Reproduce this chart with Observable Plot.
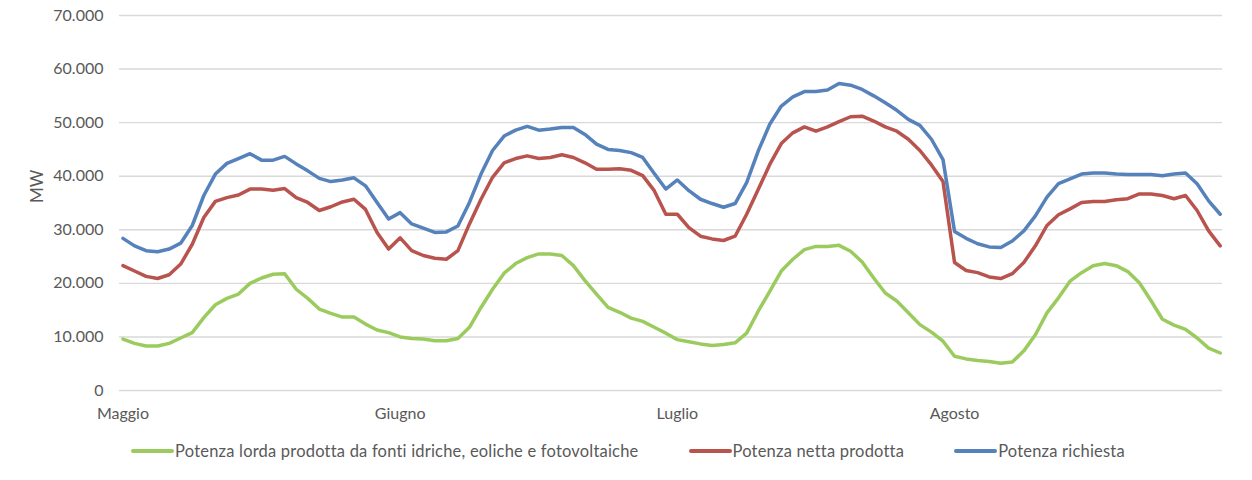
<!DOCTYPE html>
<html>
<head>
<meta charset="utf-8">
<script src="https://cdn.jsdelivr.net/npm/d3@7"></script>
<script src="https://cdn.jsdelivr.net/npm/@observablehq/plot@0.6"></script>
<style>
  html, body { margin: 0; padding: 0; background: #fff; }
  #chart { width: 1252px; }
  .legend { display: flex; justify-content: center; align-items: center; gap: 50px;
    font-family: Lato, sans-serif; font-size: 16.5px; letter-spacing: 0.2px; color: #595959; margin-top: 11px; margin-left: 4px; }
  .legend .item { display: flex; align-items: center; }
  .legend .sw { display: inline-block; width: 43px; height: 4px; border-radius: 2px; margin-right: 1px; }
</style>
</head>
<body>
<div id="chart"></div>
<script>
const months = ["Maggio", "Giugno", "Luglio", "Agosto"];
const monthTicks = [0, 24, 48, 72];
const yTicks = [0, 10000, 20000, 30000, 40000, 50000, 60000, 70000];
const seriesNames = [
  "Potenza lorda prodotta da fonti idriche, eoliche e fotovoltaiche",
  "Potenza netta prodotta",
  "Potenza richiesta"
];
const seriesColors = ["#9BCB5E", "#B8534E", "#5682BB"];

const lorda = [
  9600, 8800, 8300, 8300, 8800, 9800, 10800, 13600, 16000, 17200, 18000, 20000,
  21000, 21700, 21800, 18900, 17200, 15200, 14400, 13700, 13700, 12400, 11300, 10800,
  10000, 9700, 9600, 9300, 9300, 9700, 11800, 15500, 18900, 21900, 23700, 24800,
  25500, 25500, 25200, 23300, 20500, 18000, 15500, 14600, 13500, 12900, 11800, 10700,
  9500, 9100, 8700, 8400, 8600, 8900, 10700, 14800, 18500, 22300, 24500, 26300,
  26900, 26900, 27100, 26000, 24000, 21000, 18200, 16700, 14500, 12300, 10900, 9200,
  6400, 5900, 5600, 5400, 5100, 5300, 7400, 10400, 14500, 17300, 20400, 22000,
  23300, 23700, 23300, 22200, 20100, 16800, 13300, 12200, 11400, 9800, 7900, 7000
];
const netta = [
  23300, 22300, 21300, 20900, 21600, 23600, 27300, 32300, 35300, 36000, 36500, 37600,
  37600, 37400, 37700, 36000, 35100, 33600, 34300, 35200, 35700, 33800, 29500, 26400,
  28500, 26100, 25200, 24700, 24500, 26100, 31100, 35700, 39800, 42500, 43300, 43800,
  43300, 43500, 44000, 43500, 42500, 41300, 41300, 41400, 41100, 40100, 37300, 32900,
  32900, 30400, 28800, 28300, 28000, 28800, 32900, 37500, 42200, 46100, 48100, 49200,
  48400, 49200, 50200, 51100, 51200, 50300, 49200, 48400, 46900, 44800, 42100, 39000,
  23900, 22400, 22000, 21200, 20900, 21800, 23900, 27000, 30800, 32800, 33900, 35100,
  35300, 35300, 35600, 35800, 36700, 36700, 36400, 35800, 36400, 33600, 29800, 27000
];
const richiesta = [
  28400, 27000, 26100, 25900, 26400, 27500, 30800, 36400, 40400, 42400, 43300, 44200,
  43000, 43000, 43700, 42300, 41000, 39600, 39000, 39300, 39700, 38200, 35100, 32000,
  33200, 31100, 30300, 29500, 29600, 30700, 35100, 40400, 44800, 47500, 48600, 49300,
  48600, 48800, 49100, 49100, 47800, 46000, 45000, 44800, 44400, 43500, 40500, 37600,
  39300, 37300, 35700, 34900, 34200, 34900, 38800, 44700, 49700, 53100, 54800, 55800,
  55800, 56100, 57300, 57000, 56200, 55000, 53700, 52300, 50600, 49500, 46900, 43100,
  29700, 28400, 27400, 26800, 26700, 27900, 29800, 32600, 36100, 38600, 39500, 40400,
  40600, 40600, 40400, 40300, 40300, 40300, 40100, 40400, 40600, 38600, 35400, 32900
];

const seriesValues = [lorda, netta, richiesta];
const data = seriesValues.flatMap((vals, s) =>
  vals.map((v, i) => ({ i, v, series: seriesNames[s] }))
);

const fmt = d3.formatLocale({ decimal: ",", thousands: ".", grouping: [3], currency: ["", " €"] }).format(",");

const chart = Plot.plot({
  width: 1252,
  height: 430,
  marginLeft: 119,
  marginRight: 30,
  marginTop: 15,
  marginBottom: 40,
  style: { fontFamily: "Lato, sans-serif", fontSize: "16px", color: "#595959", background: "#fff" },
  x: { domain: [-0.3, 95.2], axis: null },
  y: { domain: [0, 70000], axis: null },
  color: { domain: seriesNames, range: seriesColors },
  marks: [
    Plot.gridY(yTicks, { stroke: "#d9d9d9", strokeOpacity: 1, strokeWidth: 1.4 }),
    Plot.axisY(yTicks, { tickSize: 0, tickPadding: 16, tickFormat: fmt, label: null, fill: "#595959" }),
    Plot.axisX(monthTicks, { tickSize: 0, tickPadding: 17, tickFormat: d => months[d / 24], label: null, fill: "#595959" }),
    Plot.text(["MW"], { frameAnchor: "left", dx: -82, rotate: -90, fill: "#595959", fontSize: 17 }),
    Plot.lineY(data, { x: "i", y: "v", z: "series", stroke: "series", strokeWidth: 3.5, strokeLinejoin: "round", strokeLinecap: "round" })
  ]
});
document.getElementById("chart").appendChild(chart);

const legend = document.createElement("div");
legend.className = "legend";
seriesNames.forEach((name, k) => {
  const item = document.createElement("div");
  item.className = "item";
  const sw = document.createElement("span");
  sw.className = "sw";
  sw.style.background = seriesColors[k];
  const label = document.createElement("span");
  label.textContent = name;
  item.appendChild(sw);
  item.appendChild(label);
  legend.appendChild(item);
});
document.getElementById("chart").appendChild(legend);
</script>
</body>
</html>
